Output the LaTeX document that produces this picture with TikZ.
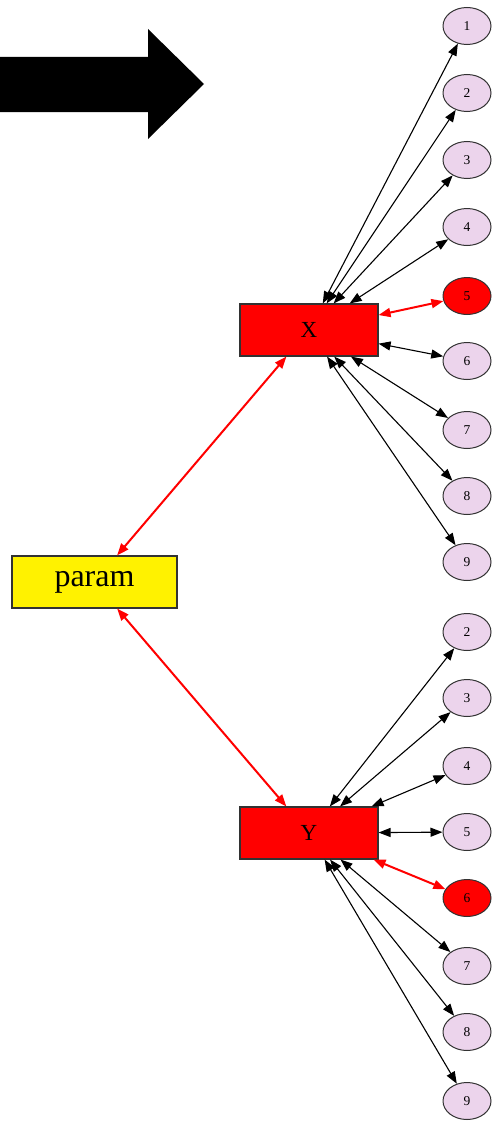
\documentclass[tikz,border=0pt]{standalone}
\usepackage{fontspec}
\setmainfont{Liberation Serif}
\usetikzlibrary{arrows.meta,shapes.geometric}
\definecolor{leafpink}{RGB}{236,212,236}
\definecolor{framegray}{RGB}{50,50,50}
\begin{document}
\begin{tikzpicture}[x=1pt,y=-1pt,
  box/.style={draw=framegray, line width=1.1pt, minimum width=138pt, minimum height=52pt, inner sep=0pt},
  leaf/.style={ellipse, draw=framegray, line width=1pt, fill=leafpink, minimum width=48pt, minimum height=37pt, inner sep=0pt, font=\fontsize{13.5}{13.5}\selectfont},
  hotleaf/.style={leaf, fill=red},
  tips/.style={{Triangle[length=12pt,width=9pt]}-{Triangle[length=12pt,width=9pt]}},
  link/.style={tips, line width=1.1pt, black},
  redlink/.style={tips, line width=2pt, red}]
\useasboundingbox (0,0) rectangle (492,1124);

% big block arrow
\fill[black] (0,57) -- (148,57) -- (148,29) -- (204,84) -- (148,139) -- (148,112) -- (0,112) -- cycle;

% main boxes
\node[box, fill=red, font=\fontsize{23}{23}\selectfont] (X) at (309,330) {X};
\node[box, fill=yellow, minimum width=165pt, font=\fontsize{32}{32}\selectfont] (P) at (94.5,582) {param};
\node[box, fill=red, font=\fontsize{23}{23}\selectfont] (Y) at (309,833) {Y};

% leaves of X
\foreach \n/\yy in {1/26,2/93,3/160,4/227,6/361,7/430,8/496,9/562}
  \node[leaf] (x\n) at (467,\yy) {\n};
\node[hotleaf] (x5) at (467,296) {5};

% leaves of Y
\foreach \n/\yy in {2/632,3/698,4/766,5/832,7/966,8/1032,9/1101}
  \node[leaf] (y\n) at (467,\yy) {\n};
\node[hotleaf] (y6) at (467,898) {6};

% connectors
\foreach \n in {1,2,3,4,6,7,8,9}
  \draw[link] (X) -- (x\n);
\draw[redlink] (X) -- (x5);
\foreach \n in {2,3,4,5,7,8,9}
  \draw[link] (Y) -- (y\n);
\draw[redlink] (Y) -- (y6);
\draw[redlink] (P) -- (X);
\draw[redlink] (P) -- (Y);
\end{tikzpicture}
\end{document}
